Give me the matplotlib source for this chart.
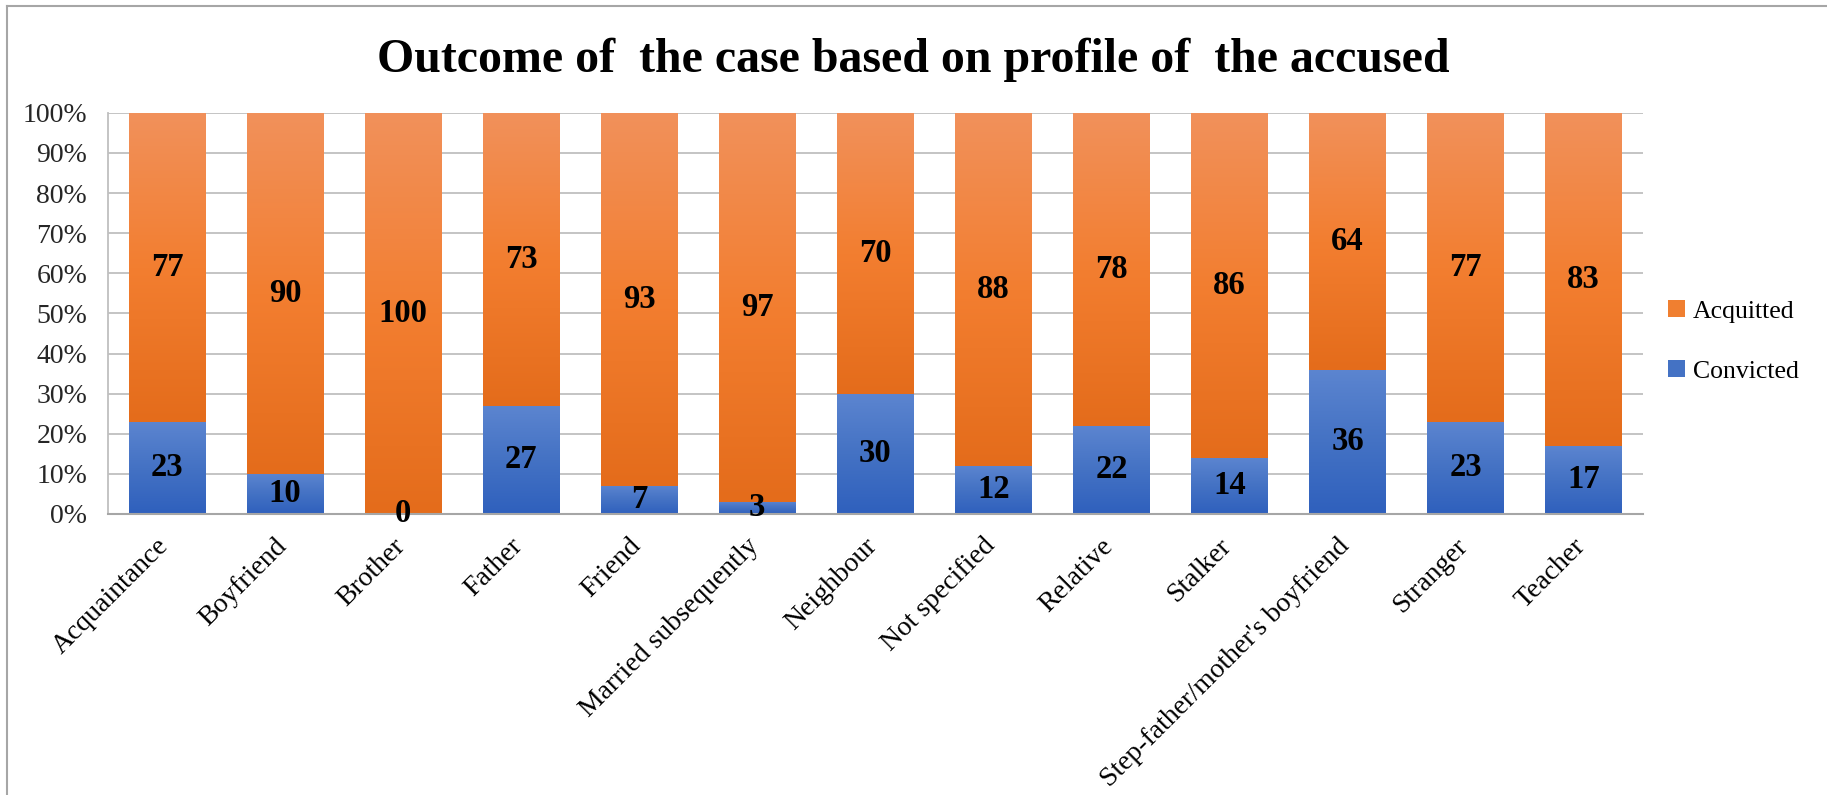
import numpy as np
import matplotlib.pyplot as plt
import matplotlib.transforms as mtransforms
from matplotlib.colors import LinearSegmentedColormap
from matplotlib.lines import Line2D
from matplotlib.patches import Patch

# dane z wykresu
kategorie = ["Acquaintance", "Boyfriend", "Brother", "Father", "Friend",
             "Married subsequently", "Neighbour", "Not specified", "Relative",
             "Stalker", "Step-father/mother's boyfriend", "Stranger", "Teacher"]
skazani = [23, 10, 0, 27, 7, 3, 30, 12, 22, 14, 36, 23, 17]
uniewinnieni = [77, 90, 100, 73, 93, 97, 70, 88, 78, 86, 64, 77, 83]
procenty = [0, 10, 20, 30, 40, 50, 60, 70, 80, 90, 100]

plt.rcParams['font.family'] = ['Liberation Serif', 'DejaVu Serif']

# gradienty jak w Excelu (jasny u gory, ciemny u dolu)
cm_pom = LinearSegmentedColormap.from_list("pom", ["#E46C1B", "#F37E30", "#F1915B"])
cm_nieb = LinearSegmentedColormap.from_list("nieb", ["#2F60BD", "#4472C4", "#5C85D0"])
grad = np.linspace(0, 1, 256).reshape(-1, 1)

fig = plt.figure(figsize=(18.27, 7.95), dpi=100)
ax = fig.add_axes([0.0591, 0.3535, 0.8400, 0.5045])

x = np.arange(len(kategorie))
szer = 0.65
b1 = ax.bar(x, skazani, szer, color="none", label="Convicted", zorder=3)
b2 = ax.bar(x, uniewinnieni, szer, bottom=skazani, color="none",
            label="Acquitted", zorder=3)

for bars, cm in ((b1, cm_nieb), (b2, cm_pom)):
    for p in bars:
        h = p.get_height()
        if h <= 0:
            continue
        x0, y0 = p.get_x(), p.get_y()
        im = ax.imshow(grad, extent=[x0, x0 + p.get_width(), y0, y0 + h],
                       origin="lower", aspect="auto", cmap=cm, zorder=2.5)
        im.set_clip_path(p)

for i in range(len(kategorie)):
    ax.text(x[i], skazani[i] / 2, str(skazani[i]), ha="center", va="center",
            fontsize=23.5, fontweight="bold", zorder=5)
    ax.text(x[i], skazani[i] + uniewinnieni[i] / 2, str(uniewinnieni[i]),
            ha="center", va="center", fontsize=23.5, fontweight="bold", zorder=5)

ax.set_xlim(-0.5, len(kategorie) - 0.5)
ax.set_ylim(0, 100)
ax.set_yticks(procenty)
ax.set_yticklabels([f"{p}%" for p in procenty], fontsize=20, color="#262626")
ax.set_xticks(x)
ax.set_xticklabels(kategorie, rotation=45, ha="right", va="top",
                   rotation_mode="anchor", fontsize=20)
ax.tick_params(axis="y", length=0, pad=15)
ax.tick_params(axis="x", length=0, pad=14)
przes = mtransforms.ScaledTranslation(-11 / 100, 0, fig.dpi_scale_trans)
for lab in ax.get_xticklabels():
    lab.set_transform(lab.get_transform() + przes)
ax.grid(axis="y", color="#BFBFBF", linewidth=1.3, zorder=0)
ax.set_axisbelow(True)
for s in ("top", "right"):
    ax.spines[s].set_visible(False)
ax.spines["left"].set_color("#BFBFBF")
ax.spines["bottom"].set_color("#A6A6A6")
ax.spines["left"].set_linewidth(1.3)
ax.spines["bottom"].set_linewidth(1.5)

uchwyty = [Patch(facecolor="#F07F30"), Patch(facecolor="#4472C4")]
ax.legend(uchwyty, ["Acquitted", "Convicted"], loc="center left",
          bbox_to_anchor=(1.0, 0.43), frameon=False, fontsize=18.5,
          handlelength=0.65, handleheight=0.65, handletextpad=0.3,
          labelspacing=1.45, borderaxespad=0.6)

fig.text(0.5, 0.925, "Outcome of  the case based on profile of  the accused",
         ha="center", va="center", fontsize=34.5, fontweight="bold")

# ramka wykresu (gora i lewa strona)
fig.add_artist(Line2D([0.004, 1.0], [1 - 6 / 795, 1 - 6 / 795], color="#A6A6A6", lw=1.5))
fig.add_artist(Line2D([0.004, 0.004], [0.0, 1 - 6 / 795], color="#A6A6A6", lw=1.5))

fig.savefig("out.png", dpi=100)
